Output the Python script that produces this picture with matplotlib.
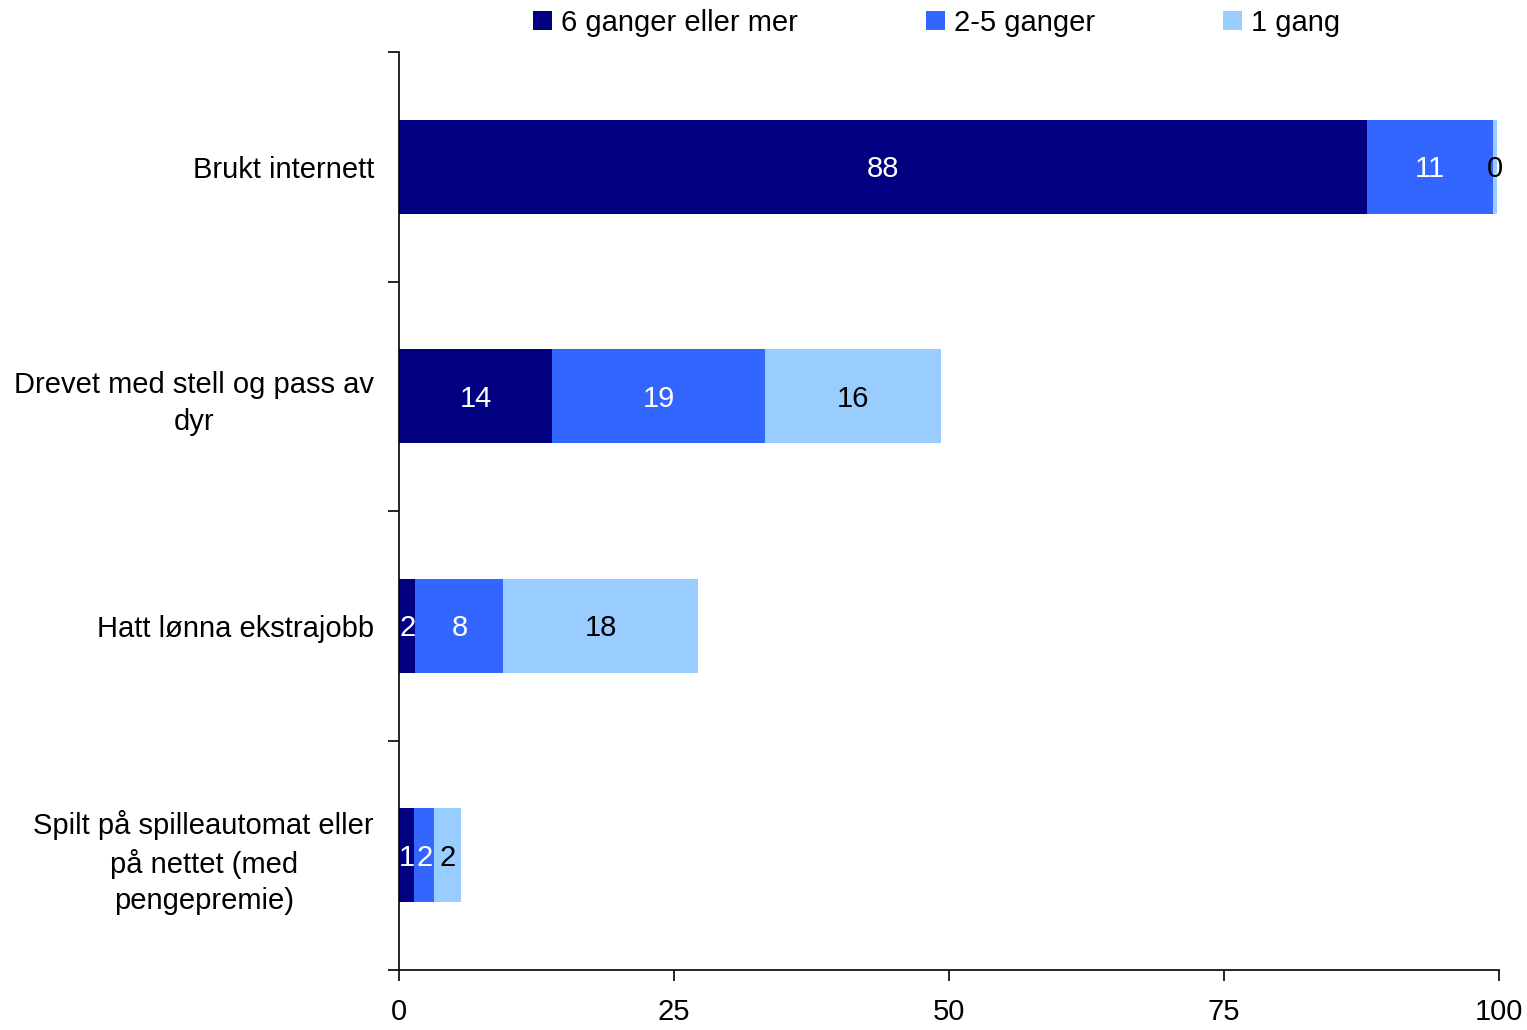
import matplotlib
matplotlib.use("Agg")
import matplotlib.pyplot as plt
import numpy as np

plt.rcParams['font.family'] = ['Liberation Sans', 'DejaVu Sans']

categories = [
    "Brukt internett",
    "Drevet med stell og pass av\ndyr",
    "Hatt lønna ekstrajobb",
    "Spilt på spilleautomat eller\npå nettet (med\npengepremie)",
]
series_names = ["6 ganger eller mer", "2-5 ganger", "1 gang"]
often = [88.0, 13.9, 1.5, 1.4]
some = [11.45, 19.4, 8.0, 1.8]
once = [0.35, 16.0, 17.7, 2.4]
x_ticks = [0, 25, 50, 75, 100]

colors = ["#000080", "#3366FF", "#99CCFF"]
text_colors = ["white", "white", "black"]
FS = 21

fig = plt.figure(figsize=(15.27, 10.30), dpi=100)
ax = fig.add_axes([399 / 1527, 1 - 970 / 1030, 1100 / 1527, 918 / 1030])

y = np.arange(len(categories))
left = np.zeros(len(categories))
handles = []
for vals, col, tcol, name in zip([often, some, once], colors, text_colors, series_names):
    vals = np.array(vals)
    bars = ax.barh(y, vals, left=left, height=0.41, color=col, label=name)
    handles.append(bars)
    for yi, l, v in zip(y, left, vals):
        ax.text(l + v / 2, yi + 0.01, f"{v:.0f}", ha="center", va="center",
                color=tcol, fontsize=FS)
    left = left + vals

ax.set_xlim(0, 100)
ax.set_ylim(len(categories) - 0.5, -0.5)
ax.set_xticks(x_ticks)
ax.set_xticklabels([str(t) for t in x_ticks], fontsize=FS)
ax.tick_params(axis="x", direction="out", length=8, width=1.2, pad=12, colors="black")

ax.set_yticks(y)
ax.set_yticklabels(categories, fontsize=FS, ha="right", multialignment="center",
                   linespacing=1.38)
ax.tick_params(axis="y", which="major", length=0, pad=18)
ax.set_yticks(np.arange(-0.5, len(categories), 1.0), minor=True)
ax.tick_params(axis="y", which="minor", direction="out", length=8, width=1.2)

for side in ["top", "right"]:
    ax.spines[side].set_visible(False)
for side in ["left", "bottom"]:
    ax.spines[side].set_linewidth(1.2)

fig.legend(handles=handles, labels=series_names, loc="center left", ncol=3,
           bbox_to_anchor=(533 / 1527, 1 - 23 / 1030), frameon=False, fontsize=FS,
           borderpad=0, borderaxespad=0,
           handlelength=0.65, handleheight=0.65, handletextpad=0.3,
           columnspacing=4.4)

fig.savefig("out.png", dpi=100)
